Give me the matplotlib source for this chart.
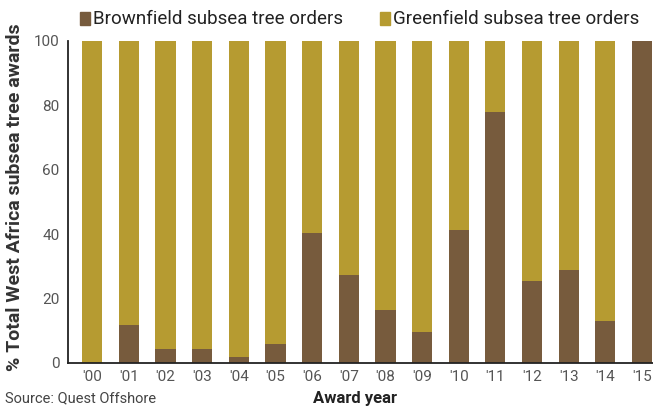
import matplotlib

matplotlib.use("Agg")
import matplotlib.pyplot as plt
import numpy as np

plt.rcParams["font.family"] = ["Roboto", "DejaVu Sans"]

# Share of West Africa subsea tree awards by year (%)
years = ["'00", "'01", "'02", "'03", "'04", "'05", "'06", "'07",
         "'08", "'09", "'10", "'11", "'12", "'13", "'14", "'15"]
brownfield = [0, 11.8, 4.3, 4.3, 1.9, 5.9, 40.5, 27.4,
              16.5, 9.5, 41.2, 78.0, 25.5, 28.9, 13.0, 100]
greenfield = [100 - b for b in brownfield]

BROWN = "#775b3d"
GOLD = "#b69b31"
TEXT = "#222222"

W, H = 653, 407
fig = plt.figure(figsize=(W / 100, H / 100), dpi=100)
ax = fig.add_axes([68 / W, 44 / H, 585 / W, 322 / H])

x = np.arange(len(years))
ax.bar(x, brownfield, width=0.55, color=BROWN, edgecolor="none")
ax.bar(x, greenfield, bottom=brownfield, width=0.55, color=GOLD, edgecolor="none")

ax.set_xlim(-0.66, 15.3)
ax.set_ylim(0, 100)
ax.set_yticks([0, 20, 40, 60, 80, 100])
ax.set_xticks(x)
ax.set_xticklabels(years)
ax.tick_params(axis="both", length=0, labelsize=11, labelcolor="#555555")
ax.tick_params(axis="y", pad=6)
ax.tick_params(axis="x", pad=5)

for side in ("top", "right"):
    ax.spines[side].set_visible(False)
for side in ("left", "bottom"):
    ax.spines[side].set_color("#222222")
    ax.spines[side].set_linewidth(1.3)

fig.text(15 / W, 0.515, "% Total West Africa subsea tree awards", rotation=90,
         ha="center", va="center", fontsize=14, fontweight="bold", color="#333333")
fig.text(355 / W, 9 / H, "Award year", ha="center", va="center",
         fontsize=12, fontweight="bold", color=TEXT)
fig.text(5 / W, 9 / H, "Source: Quest Offshore", ha="left", va="center",
         fontsize=10.5, color="#444444")

# legend row above the plot
for sx, label, col in [(80, "Brownfield subsea tree orders", BROWN),
                        (380, "Greenfield subsea tree orders", GOLD)]:
    fig.add_artist(plt.Rectangle((sx / W, 1 - 25 / H), 10 / W, 13 / H,
                                 transform=fig.transFigure, color=col))
    fig.text((sx + 13) / W, 1 - 19 / H, label, ha="left", va="center",
             fontsize=13.5, color=TEXT)

fig.savefig("out.png", dpi=100, facecolor="white")
